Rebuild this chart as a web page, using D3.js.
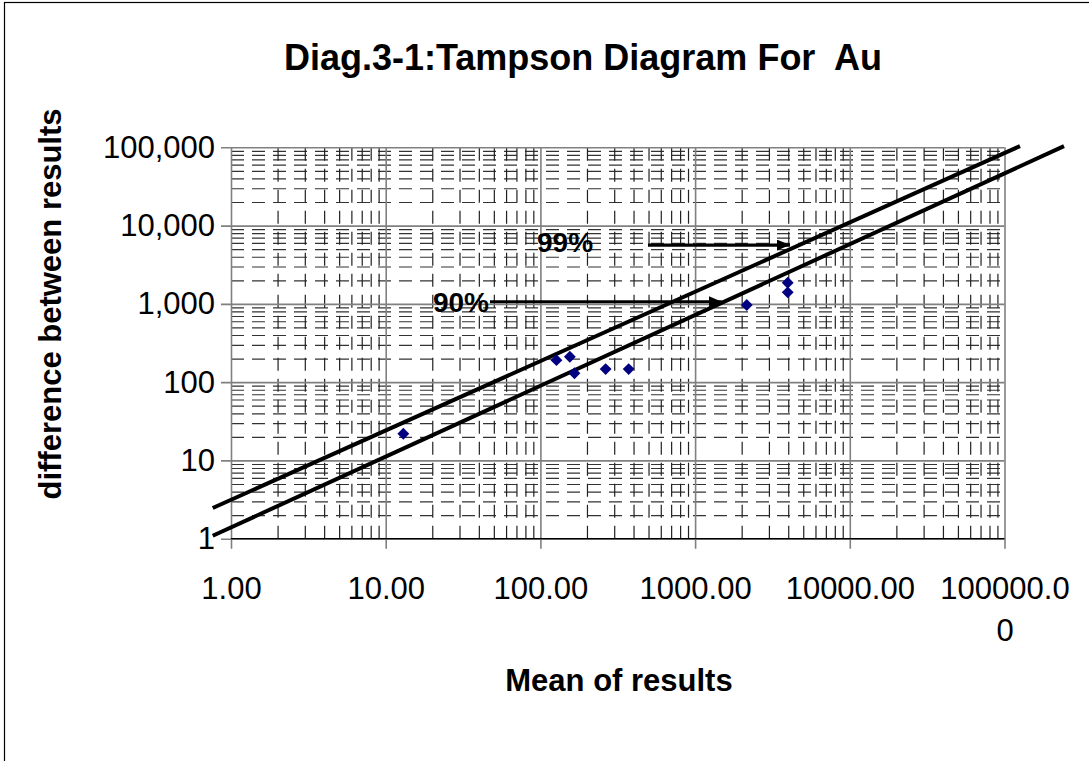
<!DOCTYPE html>
<html>
<head>
<meta charset="utf-8">
<script src="https://cdn.jsdelivr.net/npm/d3@7"></script>
<style>
  body { margin: 0; background: #fff; }
  svg { display: block; }
  text { font-family: Arial, "Liberation Sans", sans-serif; fill: #000; white-space: pre; }
</style>
</head>
<body>
<svg id="chart" width="1089" height="761"></svg>
<script>
// Duplicate assay pairs: mean of the two results and their absolute difference
const meanOfResults = [13.0, 127, 155, 166, 264, 372, 2157, 3970, 3970];
const differenceBetweenResults = [21.9, 191, 211, 130, 147, 147, 966, 1861, 1403];

// Axis ticks (log decades) and their printed labels
const xTickValues = [1, 10, 100, 1000, 10000, 100000];
const xTickLabels = ["1.00", "10.00", "100.00", "1000.00", "10000.00", "100000.0\n0"];
const yTickValues = [1, 10, 100, 1000, 10000, 100000];
const yTickLabels = ["1", "10", "100", "1,000", "10,000", "100,000"];

// Precision control lines (end points in data units)
const line99X = [0.762, 125900];
const line99Y = [2.47, 103500];
const line90X = [0.762, 242500];
const line90Y = [1.09, 103500];

// Pointer arrows for the line labels
const arrowLabels = ["99%", "90%"];
const arrowFromX = [496, 47.2];
const arrowToX = [4105, 1486];
const arrowY = [5636, 1064];
const labelX = [95.1, 20.2];
const labelY = [4627, 786];

const svg = d3.select("#chart");
const plot = { left: 231, right: 1004.5, top: 147.3, bottom: 538.7 };
const W = plot.right - plot.left, H = plot.bottom - plot.top;

const x = d3.scaleLog().domain([1, 100000]).range([plot.left, plot.right]);
const y = d3.scaleLog().domain([1, 100000]).range([plot.bottom, plot.top]);

// Outer chart frame
svg.append("rect")
  .attr("x", 4.5).attr("y", 2.5).attr("width", 1100).attr("height", 800)
  .attr("fill", "#fff").attr("stroke", "#000").attr("stroke-width", 1.2);

// Title
svg.append("text")
  .attr("x", 583).attr("y", 70)
  .attr("text-anchor", "middle")
  .style("font-size", "36px").style("font-weight", "bold")
  .text("Diag.3-1:Tampson Diagram For  Au");

// Minor gridlines (dashed) from the log scale's own ticks
const minorX = x.ticks().filter(v => !xTickValues.includes(v));
const minorY = y.ticks().filter(v => !yTickValues.includes(v));

const gridMinorY = svg.append("g")
  .attr("transform", `translate(${plot.left},0)`)
  .call(d3.axisLeft(y).tickValues(minorY).tickSize(-W).tickFormat(""));
gridMinorY.select(".domain").remove();
gridMinorY.selectAll("line")
  .attr("stroke", "#333").attr("stroke-width", 1.2).attr("stroke-dasharray", "13,8");

const gridMinorX = svg.append("g")
  .attr("transform", `translate(0,${plot.bottom})`)
  .call(d3.axisBottom(x).tickValues(minorX).tickSize(-H).tickFormat(""));
gridMinorX.select(".domain").remove();
gridMinorX.selectAll("line")
  .attr("stroke", "#222").attr("stroke-width", 1.2).attr("stroke-dasharray", "13,8");

// Major gridlines with outside ticks
const gridMajorY = svg.append("g")
  .attr("transform", `translate(${plot.left},0)`)
  .call(d3.axisLeft(y).tickValues(yTickValues).tickSizeInner(-W).tickSizeOuter(0).tickFormat(""));
gridMajorY.select(".domain").remove();
gridMajorY.selectAll("line")
  .attr("x1", -10)
  .attr("stroke", "#808080").attr("stroke-width", 1.6);

const gridMajorX = svg.append("g")
  .attr("transform", `translate(0,${plot.bottom})`)
  .call(d3.axisBottom(x).tickValues(xTickValues).tickSizeInner(-H).tickSizeOuter(0).tickFormat(""));
gridMajorX.select(".domain").remove();
gridMajorX.selectAll("line")
  .attr("y1", 10)
  .attr("stroke", "#808080").attr("stroke-width", 1.6);

// Axis line along the bottom
svg.append("line")
  .attr("x1", plot.left).attr("x2", plot.right)
  .attr("y1", y(1)).attr("y2", y(1))
  .attr("stroke", "#000").attr("stroke-width", 1.2);

// Y tick labels
const yAxis = svg.append("g")
  .attr("transform", `translate(${plot.left},0)`)
  .call(d3.axisLeft(y).tickValues(yTickValues).tickSize(0).tickPadding(16)
    .tickFormat((d, i) => yTickLabels[i]));
yAxis.select(".domain").remove();
yAxis.selectAll("text")
  .attr("fill", "#000")
  .style("font-size", "31px")
  .style("font-family", "Arial, 'Liberation Sans', sans-serif");

// X tick labels, allowing a wrapped second line
const xAxis = svg.append("g")
  .attr("transform", `translate(0,${plot.bottom})`)
  .call(d3.axisBottom(x).tickValues(xTickValues).tickSize(0).tickFormat(""));
xAxis.select(".domain").remove();
xAxis.selectAll(".tick").each(function (d, i) {
  const lines = xTickLabels[i].split("\n");
  const t = d3.select(this).append("text")
    .attr("text-anchor", "middle")
    .attr("fill", "#000")
    .style("font-size", "31px")
    .style("font-family", "Arial, 'Liberation Sans', sans-serif");
  lines.forEach((s, k) => {
    t.append("tspan").attr("x", 0).attr("y", 60 + k * 42).text(s);
  });
});

// Axis titles
svg.append("text")
  .attr("x", 619).attr("y", 691)
  .attr("text-anchor", "middle")
  .style("font-size", "31px").style("font-weight", "bold")
  .text("Mean of results");

svg.append("text")
  .attr("transform", "translate(61,304) rotate(-90)")
  .attr("text-anchor", "middle")
  .style("font-size", "31px").style("font-weight", "bold")
  .text("difference between results");

// Control lines
const ctrl = [
  d3.zip(line99X, line99Y),
  d3.zip(line90X, line90Y)
];
const lineGen = d3.line().x(d => x(d[0])).y(d => y(d[1]));
svg.append("g").selectAll("path")
  .data(ctrl).join("path")
  .attr("d", lineGen)
  .attr("fill", "none").attr("stroke", "#000").attr("stroke-width", 4)
  .attr("stroke-linecap", "butt");

// Arrow heads
svg.append("defs").append("marker")
  .attr("id", "head")
  .attr("viewBox", "0 0 13 11")
  .attr("refX", 13).attr("refY", 5.5)
  .attr("markerUnits", "userSpaceOnUse")
  .attr("markerWidth", 13).attr("markerHeight", 11)
  .attr("orient", "auto")
  .append("path").attr("d", "M0,0 L13,5.5 L0,11 Z").attr("fill", "#000");

const arrows = svg.append("g");
arrowLabels.forEach((lab, i) => {
  arrows.append("line")
    .attr("x1", x(arrowFromX[i])).attr("x2", x(arrowToX[i]))
    .attr("y1", y(arrowY[i])).attr("y2", y(arrowY[i]))
    .attr("stroke", "#000").attr("stroke-width", 3.2)
    .attr("marker-end", "url(#head)");
  arrows.append("text")
    .attr("x", x(labelX[i])).attr("y", y(labelY[i]))
    .style("font-size", "28px").style("font-weight", "bold")
    .text(lab);
});

// Data markers: navy diamonds
svg.append("g").selectAll("path")
  .data(d3.zip(meanOfResults, differenceBetweenResults))
  .join("path")
  .attr("transform", d => `translate(${x(d[0])},${y(d[1])}) rotate(45)`)
  .attr("d", d3.symbol().type(d3.symbolSquare).size(70))
  .attr("fill", "#000080");
</script>
</body>
</html>
